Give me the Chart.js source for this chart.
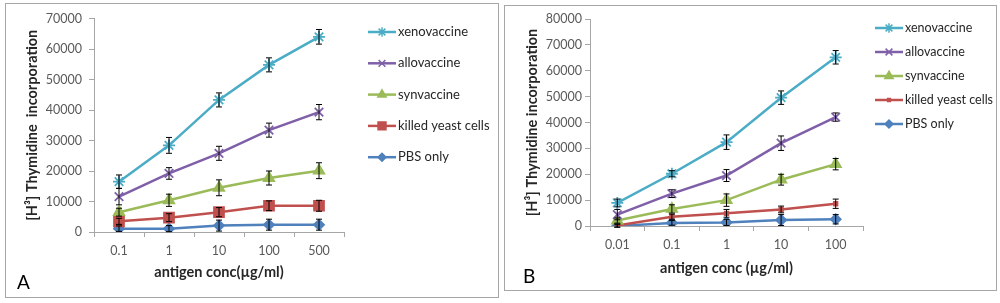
<!DOCTYPE html>
<html lang="en">
<head>
<meta charset="UTF-8">
<title>Thymidine incorporation</title>
<script src="https://cdn.jsdelivr.net/npm/chart.js"></script>
<style>
  body { margin: 0; background: #fff; width: 1000px; height: 303px; position: relative; overflow: hidden; font-family: Lato, sans-serif; }
  .panel { position: absolute; border: 1px solid #a6a6a6; background: #fff; }
  #panelA { left: 5px; top: 3px; width: 492px; height: 293px; }
  #panelB { left: 504px; top: 5px; width: 491px; height: 284px; }
  .tag { position: absolute; font-size: 19px; line-height: 19px; color: #000; }
</style>
</head>
<body>
<div id="panelA" class="panel"><canvas id="chartA" width="492" height="293"></canvas></div>
<div id="panelB" class="panel"><canvas id="chartB" width="491" height="284"></canvas></div>
<div class="tag" style="left:17px; top:272px;">A</div>
<div class="tag" style="left:523px; top:266px;">B</div>

<script>
// panel A
const concA = ["0.1", "1", "10", "100", "500"];
const xenoA  = [16500, 28400, 43300, 54800, 64000];
const alloA  = [11600, 19200, 25800, 33400, 39300];
const synA   = [6500, 10400, 14500, 17700, 20100];
const yeastA = [3500, 4700, 6500, 8600, 8600];
const pbsA   = [1100, 1100, 2100, 2400, 2400];
const xenoErrA  = [2200, 2600, 2300, 2300, 2400];
const alloErrA  = [2700, 1900, 2300, 2300, 2500];
const synErrA   = [1300, 2000, 2600, 2300, 2600];
const yeastErrA = [1000, 1300, 1500, 1600, 1800];
const pbsErrA   = [900, 1000, 1800, 1800, 1800];

// panel B
const concB = ["0.01", "0.1", "1", "10", "100"];
const xenoB  = [8900, 20200, 32400, 49600, 65200];
const alloB  = [4400, 12500, 19500, 32000, 42100];
const synB   = [2100, 6600, 10000, 17900, 23900];
const yeastB = [200, 3600, 4900, 6400, 8600];
const pbsB   = [0, 1200, 1400, 2300, 2600];
const xenoErrB  = [1500, 1200, 2800, 2600, 2600];
const alloErrB  = [2000, 1500, 2300, 2800, 1600];
const synErrB   = [1000, 1600, 2400, 2100, 2200];
const yeastErrB = [600, 1000, 1500, 1300, 1800];
const pbsErrB   = [500, 900, 1200, 2100, 1800];

const names = ["xenovaccine", "allovaccine", "synvaccine", "killed yeast cells", "PBS only"];
const colors = ["#4BACC6", "#7F5FA8", "#9BBB59", "#C0504D", "#4F81BD"];
const styles = ["star", "crossRot", "triangle", "rect", "rectRot"];

function makeSet(i, data, err, radius) {
  return {
    label: names[i], data: data, errors: err,
    borderColor: colors[i], backgroundColor: colors[i],
    borderWidth: 2.5, pointStyle: styles[i], pointRadius: radius,
    pointBorderWidth: 1.8, pointBackgroundColor: colors[i], pointBorderColor: colors[i],
    tension: 0, fill: false
  };
}

// error bars from the y scale
const errorBars = {
  id: "errorBars",
  afterDatasetsDraw(chart) {
    const ctx = chart.ctx, ys = chart.scales.y;
    ctx.save();
    ctx.strokeStyle = "#000";
    ctx.lineWidth = 1;
    chart.data.datasets.forEach((ds, di) => {
      const meta = chart.getDatasetMeta(di);
      ds.data.forEach((v, i) => {
        const x = meta.data[i].x;
        const y1 = ys.getPixelForValue(v - ds.errors[i]);
        const y2 = ys.getPixelForValue(v + ds.errors[i]);
        ctx.beginPath();
        ctx.moveTo(x, y1); ctx.lineTo(x, y2);
        ctx.moveTo(x - 3, y1); ctx.lineTo(x + 3, y1);
        ctx.moveTo(x - 3, y2); ctx.lineTo(x + 3, y2);
        ctx.stroke();
      });
    });
    ctx.restore();
  }
};

// Excel style legend: line with marker
const sideLegend = {
  id: "sideLegend",
  afterDraw(chart, args, opts) {
    const ctx = chart.ctx;
    ctx.save();
    chart.data.datasets.forEach((ds, i) => {
      const y = opts.y0 + i * opts.gap;
      ctx.strokeStyle = ds.borderColor;
      ctx.lineWidth = 2.5;
      ctx.beginPath();
      ctx.moveTo(opts.x, y); ctx.lineTo(opts.x + 28, y);
      ctx.stroke();
      ctx.fillStyle = ds.pointBackgroundColor;
      ctx.strokeStyle = ds.pointBorderColor;
      ctx.lineWidth = 1.5;
      Chart.helpers.drawPoint(ctx, {pointStyle: ds.pointStyle, radius: ds.pointRadius * 0.8, rotation: 0, borderWidth: 1.5}, opts.x + 14, y);
      ctx.fillStyle = "#262626";
      ctx.font = opts.size + "px Lato";
      ctx.textBaseline = "middle";
      ctx.fillText(ds.label, opts.x + 30, y);
    });
    ctx.restore();
  }
};

function makeChart(id, labels, sets, cfg) {
  return new Chart(document.getElementById(id), {
    type: "line",
    data: { labels: labels, datasets: sets },
    plugins: [errorBars, sideLegend],
    options: {
      responsive: false, animation: false,
      layout: { padding: { top: cfg.top, right: cfg.right, left: 0, bottom: 0 } },
      plugins: {
        legend: { display: false }, tooltip: { enabled: false },
        sideLegend: { x: cfg.legX, y0: cfg.legY, gap: cfg.legGap, size: cfg.legSize }
      },
      scales: {
        x: {
          offset: true,
          afterFit: s => { s.height = cfg.xH; },
          grid: { offset: true, drawOnChartArea: false, drawTicks: true, tickLength: 5, color: "#a6a6a6" },
          border: { color: "#a6a6a6" },
          ticks: { color: "#595959", font: { family: "Lato", size: 12.5 }, padding: 6, maxRotation: 0 },
          title: { display: true, text: cfg.xTitle, color: "#262626",
                   font: { family: "Lato", size: 14.5, weight: "bold" }, padding: { top: 0, bottom: cfg.xTitlePad } }
        },
        y: {
          min: 0, max: cfg.yMax,
          afterFit: s => { s.width = cfg.yW; },
          grid: { drawOnChartArea: false, drawTicks: true, tickLength: 5, color: "#a6a6a6" },
          border: { color: "#a6a6a6" },
          ticks: { stepSize: 10000, color: "#595959", font: { family: "Lato", size: 12.5 }, padding: cfg.yTickPad,
                   callback: v => String(v) },
          title: { display: true, text: cfg.yTitle, color: "#262626",
                   font: { family: "Lato", size: 14.5, weight: "bold" }, padding: { top: cfg.yTitlePad, bottom: 0 } }
        }
      }
    }
  });
}

makeChart("chartA", concA, [
  makeSet(0, xenoA, xenoErrA, 6),
  makeSet(1, alloA, alloErrA, 6),
  makeSet(2, synA, synErrA, 6),
  makeSet(3, yeastA, yeastErrA, 7),
  makeSet(4, pbsA, pbsErrA, 5)
], { top: 14, right: 154, xH: 65, yW: 88, yMax: 70000, yTickPad: 7, xTitlePad: 16, yTitlePad: 18,
     xTitle: "antigen conc(µg/ml)", yTitle: "[H³] Thymidine  incorporation",
     legX: 362, legY: 28, legGap: 31.3, legSize: 13 });

makeChart("chartB", concB, [
  makeSet(0, xenoB, xenoErrB, 6),
  makeSet(1, alloB, alloErrB, 6),
  makeSet(2, synB, synErrB, 6),
  makeSet(3, yeastB, yeastErrB, 2.5),
  makeSet(4, pbsB, pbsErrB, 5)
], { top: 13, right: 133, xH: 64, yW: 85, yMax: 80000, yTickPad: 3, xTitlePad: 13, yTitlePad: 19,
     xTitle: "antigen conc (µg/ml)", yTitle: "[H³] Thymidine incorporation",
     legX: 370, legY: 22, legGap: 24, legSize: 12.5 });
</script>
</body>
</html>
